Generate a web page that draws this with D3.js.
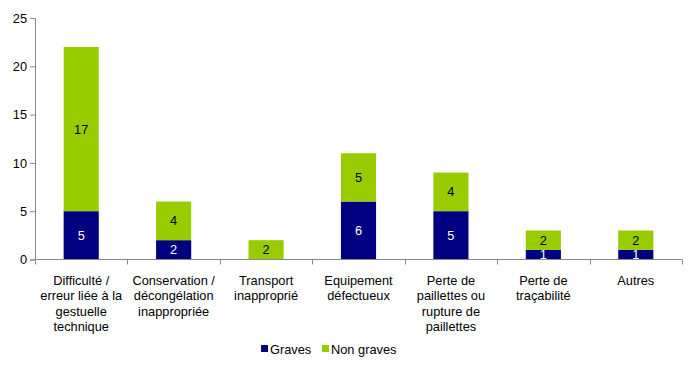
<!DOCTYPE html>
<html>
<head>
<meta charset="utf-8">
<script src="https://cdn.jsdelivr.net/npm/d3@7"></script>
<style>
  body { margin: 0; background: #fff; }
  svg text { font-family: "Liberation Sans", Arial, sans-serif; }
</style>
</head>
<body>
<div id="chart"></div>
<script>
// categories (label lines) and values
const categories = [
  ["Difficulté /", "erreur liée à la", "gestuelle", "technique"],
  ["Conservation /", "décongélation", "inappropriée"],
  ["Transport", "inapproprié"],
  ["Equipement", "défectueux"],
  ["Perte de", "paillettes ou", "rupture de", "paillettes"],
  ["Perte de", "traçabilité"],
  ["Autres"]
];
const graves = [5, 2, 0, 6, 5, 1, 1];
const nonGraves = [17, 4, 2, 5, 4, 2, 2];
const yTicks = [0, 5, 10, 15, 20, 25];
const seriesNames = ["Graves", "Non graves"];
const colors = ["#000080", "#99CC00"];

const width = 697, height = 367;
const margin = { left: 35, right: 15, top: 18, bottom: 108 };
const fs = 12.8;

const svg = d3.select("#chart").append("svg")
  .attr("width", width)
  .attr("height", height);

const x = d3.scaleBand()
  .domain(d3.range(categories.length))
  .range([margin.left, width - margin.right])
  .paddingInner(0.62)
  .paddingOuter(0.31);

const y = d3.scaleLinear()
  .domain([0, 25])
  .range([height - margin.bottom + 0.5, margin.top]);

const data = categories.map((c, i) => ({ i, Graves: graves[i], "Non graves": nonGraves[i] }));
const stacked = d3.stack().keys(seriesNames)(data);

// y axis
const yAxis = svg.append("g")
  .attr("transform", `translate(${margin.left},0)`)
  .call(d3.axisLeft(y).tickValues(yTicks).tickSize(5).tickPadding(3));
yAxis.selectAll("text").attr("font-size", fs).attr("fill", "#000")
  .attr("font-family", "Liberation Sans, Arial, sans-serif");

// bars
stacked.forEach((s, si) => {
  svg.append("g").selectAll("rect")
    .data(s.filter(d => d[1] > d[0]))
    .join("rect")
    .attr("x", d => x(d.data.i))
    .attr("width", x.bandwidth())
    .attr("y", d => y(d[1]))
    .attr("height", d => y(d[0]) - y(d[1]))
    .attr("fill", colors[si]);

  svg.append("g").selectAll("text")
    .data(s.filter(d => d[1] > d[0]))
    .join("text")
    .attr("x", d => x(d.data.i) + x.bandwidth() / 2)
    .attr("y", d => (y(d[0]) + y(d[1])) / 2 + 4.5)
    .attr("text-anchor", "middle")
    .attr("font-size", fs)
    .attr("fill", si === 0 ? "#fff" : "#000")
    .text(d => d[1] - d[0]);
});

// x axis
const xTickScale = d3.scaleLinear().domain([0, categories.length]).range(x.range());
const xg = svg.append("g");
xg.append("line")
  .attr("x1", margin.left).attr("x2", width - margin.right)
  .attr("y1", y(0)).attr("y2", y(0))
  .attr("stroke", "#888");
xg.selectAll("line.tick")
  .data(d3.range(categories.length + 1))
  .join("line")
  .attr("class", "tick")
  .attr("x1", d => Math.round(xTickScale(d)) + 0.5)
  .attr("x2", d => Math.round(xTickScale(d)) + 0.5)
  .attr("y1", y(0)).attr("y2", y(0) + 5)
  .attr("stroke", "#888");
yAxis.select(".domain").attr("stroke", "#888");
yAxis.selectAll(".tick line").attr("stroke", "#888");

// category labels
svg.append("g").selectAll("text")
  .data(categories)
  .join("text")
  .attr("text-anchor", "middle")
  .attr("font-size", fs)
  .attr("fill", "#000")
  .attr("transform", (d, i) => `translate(${x(i) + x.bandwidth() / 2},${y(0) + 25})`)
  .selectAll("tspan")
  .data(d => d)
  .join("tspan")
  .attr("x", 0)
  .attr("dy", (d, j) => j === 0 ? 0 : 15.5)
  .text(d => d);

// legend
const legend = svg.append("g").attr("transform", "translate(261,349)");
const lx = [0, 61];
seriesNames.forEach((n, i) => {
  legend.append("rect")
    .attr("x", lx[i]).attr("y", -4)
    .attr("width", 7).attr("height", 7)
    .attr("fill", colors[i]);
  legend.append("text")
    .attr("x", lx[i] + 9).attr("y", 4.5)
    .attr("font-size", fs)
    .attr("fill", "#000")
    .text(n);
});
</script>
</body>
</html>
